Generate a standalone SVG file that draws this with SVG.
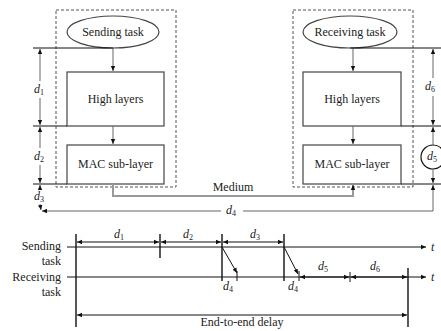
<svg xmlns="http://www.w3.org/2000/svg" width="441" height="331" viewBox="0 0 441 331" font-family="'Liberation Serif', 'Times New Roman', 'DejaVu Serif', serif">
<style>
text{font-family:'Liberation Serif','Times New Roman','DejaVu Serif',serif;font-size:12px;fill:#222}
.c{text-anchor:middle}
.e{text-anchor:end}
.d{font-style:italic;font-size:12px}
.s{font-size:8px;font-style:normal}
.dash{fill:none;stroke:#555;stroke-width:1;stroke-dasharray:3,2}
.box{fill:#fff;stroke:#444;stroke-width:1.2}
.ln{stroke:#111;stroke-width:1;fill:none}
.gl{stroke:#666;stroke-width:1;fill:none}
.vb{stroke:#111;stroke-width:1.4;fill:none}
.med{stroke:#999;stroke-width:2;fill:none}
</style>
<defs>
<marker id="a" markerUnits="userSpaceOnUse" markerWidth="6" markerHeight="6" refX="5" refY="3" orient="auto"><path d="M0,0.8 L5,3 L0,5.2 z" fill="#111"/></marker>
</defs>
<g id="sender-box"><rect class="dash" x="56" y="10" width="120" height="177"/></g>
<g id="receiver-box"><rect class="dash" x="293" y="10" width="120" height="177"/></g>
<g id="sending-task"><ellipse cx="113" cy="32" rx="46" ry="16" fill="#fff" stroke="#444" stroke-width="1.2"/><text class="c" x="113" y="36">Sending task</text></g>
<g id="send-high"><rect class="box" x="67" y="72" width="97" height="54"/><text class="c" x="115.5" y="103">High layers</text></g>
<g id="send-mac"><rect class="box" x="67" y="145" width="97" height="39"/><text class="c" x="115.5" y="168">MAC sub-layer</text></g>
<g id="receiving-task"><ellipse cx="350" cy="32" rx="47" ry="16" fill="#fff" stroke="#444" stroke-width="1.2"/><text class="c" x="350" y="36">Receiving task</text></g>
<g id="recv-high"><rect class="box" x="303" y="72" width="98" height="54"/><text class="c" x="352" y="103">High layers</text></g>
<g id="recv-mac"><rect class="box" x="303" y="145" width="98" height="39"/><text class="c" x="352" y="168">MAC sub-layer</text></g>
<g id="d5-node"><circle cx="433" cy="157" r="12" fill="#fff" stroke="#111" stroke-width="1.2"/><text class="d c" x="432" y="160">d<tspan class="s" dy="2">5</tspan></text></g>
<g id="connectors">
<line class="gl" x1="113" y1="48" x2="113" y2="71" marker-end="url(#a)"/>
<line class="gl" x1="113" y1="126" x2="113" y2="144" marker-end="url(#a)"/>
<line class="gl" x1="353" y1="48" x2="353" y2="71" marker-end="url(#a)"/>
<line class="gl" x1="353" y1="126" x2="353" y2="144" marker-end="url(#a)"/>
<path class="med" d="M113,184V196H353V186"/>
<line class="ln" x1="353" y1="190" x2="353" y2="185" marker-end="url(#a)"/>
<text class="c" x="233" y="191">Medium</text>
<path class="ln" d="M33,48H113M33,126H67M33,184H67M350,48H441M401,126H441M401,184H441"/>
<line class="gl" x1="40" y1="81" x2="40" y2="49" marker-end="url(#a)"/>
<line class="gl" x1="40" y1="98" x2="40" y2="125" marker-end="url(#a)"/>
<text class="d c" x="39" y="93">d<tspan class="s" dy="2">1</tspan></text>
<line class="gl" x1="40" y1="148" x2="40" y2="127" marker-end="url(#a)"/>
<line class="gl" x1="40" y1="165" x2="40" y2="183" marker-end="url(#a)"/>
<text class="d c" x="39" y="160">d<tspan class="s" dy="2">2</tspan></text>
<line class="gl" x1="40" y1="190" x2="40" y2="185" marker-end="url(#a)"/>
<line class="gl" x1="40" y1="204" x2="41" y2="210" marker-end="url(#a)"/>
<text class="d c" x="39" y="200">d<tspan class="s" dy="2">3</tspan></text>
<line class="gl" x1="433" y1="78" x2="433" y2="49" marker-end="url(#a)"/>
<line class="gl" x1="433" y1="96" x2="433" y2="125" marker-end="url(#a)"/>
<text class="d c" x="430" y="90">d<tspan class="s" dy="2">6</tspan></text>
<line class="gl" x1="433" y1="145" x2="433" y2="127" marker-end="url(#a)"/>
<line class="gl" x1="433" y1="169" x2="433" y2="183" marker-end="url(#a)"/>
<path class="gl" d="M433,211V185" marker-end="url(#a)"/>
<line class="gl" x1="433" y1="211" x2="243" y2="211"/>
<line class="gl" x1="221" y1="211" x2="42" y2="211" marker-end="url(#a)"/>
<text class="d c" x="231" y="214">d<tspan class="s" dy="2">4</tspan></text>
</g>
<g id="timeline">
<text class="e" x="61" y="250">Sending</text>
<text class="e" x="61" y="265">task</text>
<text class="e" x="61" y="281">Receiving</text>
<text class="e" x="61" y="296">task</text>
<line class="ln" x1="67" y1="247" x2="426" y2="247" marker-end="url(#a)"/>
<line class="ln" x1="67" y1="277" x2="426" y2="277" marker-end="url(#a)"/>
<text class="d" x="431" y="251">t</text>
<text class="d" x="431" y="281">t</text>
<line class="vb" x1="76" y1="234" x2="76" y2="327"/>
<line class="vb" x1="160" y1="234" x2="160" y2="258"/>
<line class="vb" x1="222" y1="234" x2="222" y2="281"/>
<line class="vb" x1="284" y1="234" x2="284" y2="281"/>
<line class="vb" x1="408" y1="268" x2="408" y2="327"/>
<line class="ln" x1="237" y1="271" x2="237" y2="281"/>
<line class="ln" x1="299" y1="271" x2="299" y2="281"/>
<line class="ln" x1="350" y1="272" x2="350" y2="282"/>
<line class="ln" x1="118" y1="242" x2="77" y2="242" marker-end="url(#a)"/>
<line class="ln" x1="118" y1="242" x2="159" y2="242" marker-end="url(#a)"/>
<line class="ln" x1="190" y1="242" x2="161" y2="242" marker-end="url(#a)"/>
<line class="ln" x1="190" y1="242" x2="221" y2="242" marker-end="url(#a)"/>
<line class="ln" x1="253" y1="242" x2="223" y2="242" marker-end="url(#a)"/>
<line class="ln" x1="253" y1="242" x2="283" y2="242" marker-end="url(#a)"/>
<line class="ln" x1="222" y1="247" x2="237" y2="273" marker-end="url(#a)"/>
<line class="ln" x1="284" y1="247" x2="298" y2="274" marker-end="url(#a)"/>
<line class="ln" x1="324" y1="277" x2="300" y2="277" marker-end="url(#a)"/>
<line class="ln" x1="324" y1="277" x2="349" y2="277" marker-end="url(#a)"/>
<line class="ln" x1="380" y1="277" x2="351" y2="277" marker-end="url(#a)" stroke-width="1.6"/>
<line class="ln" x1="380" y1="277" x2="407" y2="277" marker-end="url(#a)" stroke-width="1.6"/>
<line class="ln" x1="242" y1="315" x2="77" y2="315" marker-end="url(#a)"/>
<line class="ln" x1="242" y1="315" x2="407" y2="315" marker-end="url(#a)"/>
<text class="d c" x="119" y="238">d<tspan class="s" dy="2">1</tspan></text>
<text class="d c" x="188" y="238">d<tspan class="s" dy="2">2</tspan></text>
<text class="d c" x="255" y="238">d<tspan class="s" dy="2">3</tspan></text>
<text class="d" x="223" y="290">d<tspan class="s" dy="2">4</tspan></text>
<text class="d" x="288" y="290">d<tspan class="s" dy="2">4</tspan></text>
<text class="d c" x="323" y="270">d<tspan class="s" dy="2">5</tspan></text>
<text class="d c" x="375" y="270">d<tspan class="s" dy="2">6</tspan></text>
<text class="c" x="242" y="326">End-to-end delay</text>
</g>
</svg>
